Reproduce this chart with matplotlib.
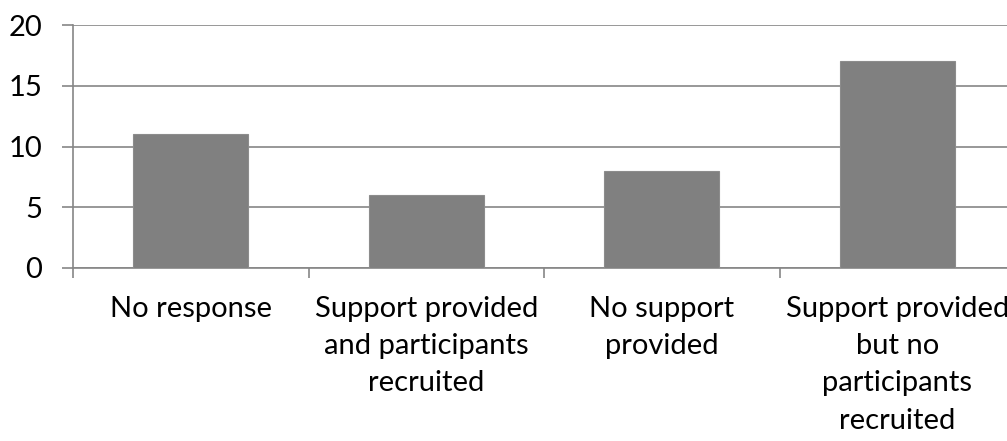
import matplotlib
matplotlib.use("Agg")
import matplotlib.pyplot as plt

categories = [
    "No response",
    "Support provided\nand participants\nrecruited",
    "No support\nprovided",
    "Support provided\nbut no\nparticipants\nrecruited",
]
counts = [11, 6, 8, 17]
y_ticks = [0, 5, 10, 15, 20]

plt.rcParams['font.family'] = ['Lato', 'DejaVu Sans']

fig = plt.figure(figsize=(10.07, 4.41), dpi=100)
W, H = 1007, 441
left, right = 73, 1015
top, bottom = 25, 268
ax = fig.add_axes([left / W, 1 - bottom / H, (right - left) / W, (bottom - top) / H])

grid_color = "#868686"
x = list(range(len(categories)))
ax.bar(x, counts, width=0.49, color="#808080", edgecolor="#8c8c8c", linewidth=0.8, zorder=3)

ax.set_xlim(-0.5, len(categories) - 0.5)
ax.set_ylim(0, 20)
ax.set_yticks(y_ticks)
ax.set_yticklabels([str(v) for v in y_ticks], fontsize=21)
for v in y_ticks:
    ax.axhline(v, color=grid_color, linewidth=1.2, zorder=1)

ax.set_xticks([i - 0.5 for i in range(len(categories) + 1)])
ax.set_xticklabels([])
ax.set_xticks(x, minor=True)
ax.set_xticklabels(categories, minor=True, fontsize=21, linespacing=1.54)
ax.tick_params(axis="x", which="minor", length=0, pad=20)
ax.tick_params(axis="x", which="major", length=7, color=grid_color, width=1.2)
ax.tick_params(axis="y", length=8, color=grid_color, width=1.2, pad=14)

for side in ["top", "right"]:
    ax.spines[side].set_visible(False)
for side in ["left", "bottom"]:
    ax.spines[side].set_color(grid_color)
    ax.spines[side].set_linewidth(1.2)

fig.savefig("out.png", dpi=100)
